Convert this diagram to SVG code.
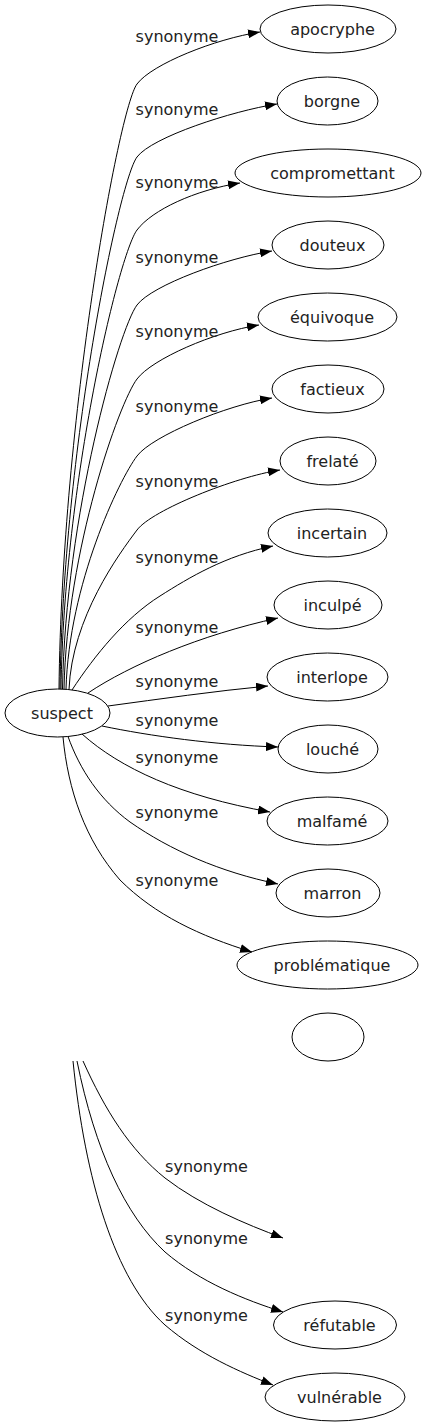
<svg xmlns="http://www.w3.org/2000/svg" width="426" height="1427" viewBox="0 0 426 1427">
<defs>
<style>
.node ellipse{fill:none;stroke:#000;stroke-width:1}
.node text{font-family:"DejaVu Sans",sans-serif;font-size:16px;fill:#222;text-anchor:middle}
.lbl{font-family:"DejaVu Sans",sans-serif;font-size:16px;fill:#222;text-anchor:middle}
.edges path{fill:none;stroke:#000;stroke-width:1;marker-end:url(#arr)}
</style>
<marker id="arr" viewBox="0 0 12 9" refX="12" refY="4.5" markerWidth="12" markerHeight="9" markerUnits="userSpaceOnUse" orient="auto"><path d="M0,0 L12,4.5 L0,9 z" fill="#000"/></marker>
</defs>
<rect width="426" height="1427" fill="#fff"/>
<g id="edges" class="edges">
<path d="M59,689 C62,417 119,108 137,84 C152,64 215,39 260,32"/>
<path d="M60,689 C63,450 119,181 137,157 C152,137 232,111 277,104"/>
<path d="M61,689 C64,482 119,254 137,230 C152,210 195,190 240,183"/>
<path d="M62.5,689 C65.5,516 119,329 137,305 C152,285 227,258 272,251"/>
<path d="M64,689 C67,549.5 119,403 137,379 C152,359 214,332 259,325"/>
<path d="M66,689 C69,584 119,480 137,456 C152,436 227,405 272,398"/>
<path d="M69,689.5 C72,617.5 119,554 137,530 C152,510 235,477 280,470"/>
<path d="M72,690 C95,655 125,618 160,596 C190,577 225,556 273,546"/>
<path d="M88,693 C130,665 200,635 278,618"/>
<path d="M108,706 C160,699 215,691 268,686"/>
<path d="M102,726 C150,736 215,745 278,747"/>
<path d="M82,734 C120,768 180,796 270,812"/>
<path d="M68,736.5 C80,770 100,800 130,822 C170,850 220,872 278,884"/>
<path d="M63,737 C68,790 85,840 120,880 C155,915 200,936 252,952"/>
<path d="M83,1061 C105,1110 130,1150 165,1178 C200,1205 245,1224 283,1238"/>
<path d="M77,1061 C95,1150 125,1215 165,1252 C200,1282 245,1300 283,1312"/>
<path d="M73,1061 C85,1180 115,1280 165,1325 C200,1355 240,1372 273,1385"/>
</g>
<g id="edge-labels">
<text class="lbl" x="177" y="42">synonyme</text>
<text class="lbl" x="177" y="115">synonyme</text>
<text class="lbl" x="177" y="188">synonyme</text>
<text class="lbl" x="177" y="263">synonyme</text>
<text class="lbl" x="177" y="337">synonyme</text>
<text class="lbl" x="177" y="412">synonyme</text>
<text class="lbl" x="177" y="487">synonyme</text>
<text class="lbl" x="177" y="563">synonyme</text>
<text class="lbl" x="177" y="633">synonyme</text>
<text class="lbl" x="177" y="687">synonyme</text>
<text class="lbl" x="177" y="726">synonyme</text>
<text class="lbl" x="177" y="763">synonyme</text>
<text class="lbl" x="177" y="818">synonyme</text>
<text class="lbl" x="177" y="886">synonyme</text>
<text class="lbl" x="206.5" y="1172">synonyme</text>
<text class="lbl" x="206.5" y="1244">synonyme</text>
<text class="lbl" x="206.5" y="1321">synonyme</text>
</g>
<g id="suspect" class="node"><ellipse cx="57.5" cy="713" rx="52.5" ry="24"/><text x="62" y="718.5">suspect</text></g>
<g id="apocryphe" class="node"><ellipse cx="328" cy="29" rx="68" ry="24"/><text x="332.5" y="34.5">apocryphe</text></g>
<g id="borgne" class="node"><ellipse cx="327.5" cy="101" rx="50.5" ry="24"/><text x="332" y="106.5">borgne</text></g>
<g id="compromettant" class="node"><ellipse cx="328" cy="173" rx="93" ry="24"/><text x="332.5" y="178.5">compromettant</text></g>
<g id="douteux" class="node"><ellipse cx="328" cy="245" rx="56" ry="24"/><text x="332.5" y="250.5">douteux</text></g>
<g id="equivoque" class="node"><ellipse cx="327.5" cy="317" rx="69.5" ry="24"/><text x="332" y="322.5">équivoque</text></g>
<g id="factieux" class="node"><ellipse cx="328" cy="389" rx="56" ry="24"/><text x="332.5" y="394.5">factieux</text></g>
<g id="frelate" class="node"><ellipse cx="328" cy="461" rx="48" ry="24"/><text x="332.5" y="466.5">frelaté</text></g>
<g id="incertain" class="node"><ellipse cx="327.5" cy="533" rx="59.5" ry="24"/><text x="332" y="538.5">incertain</text></g>
<g id="inculpe" class="node"><ellipse cx="328" cy="605" rx="54" ry="24"/><text x="332.5" y="610.5">inculpé</text></g>
<g id="interlope" class="node"><ellipse cx="327.5" cy="677" rx="60.5" ry="24"/><text x="332" y="682.5">interlope</text></g>
<g id="louche" class="node"><ellipse cx="328" cy="749" rx="50" ry="24"/><text x="332.5" y="754.5">louché</text></g>
<g id="malfame" class="node"><ellipse cx="327.5" cy="821" rx="60.5" ry="24"/><text x="332" y="826.5">malfamé</text></g>
<g id="marron" class="node"><ellipse cx="328" cy="893" rx="52" ry="24"/><text x="332.5" y="898.5">marron</text></g>
<g id="problematique" class="node"><ellipse cx="327.5" cy="965" rx="90.5" ry="24"/><text x="332" y="970.5">problématique</text></g>
<g id="empty" class="node"><ellipse cx="328" cy="1037" rx="36" ry="24"/></g>
<g id="refutable" class="node"><ellipse cx="335" cy="1325" rx="61.5" ry="24"/><text x="339.5" y="1330.5">réfutable</text></g>
<g id="vulnerable" class="node"><ellipse cx="335" cy="1397" rx="70" ry="24"/><text x="339.5" y="1402.5">vulnérable</text></g>
</svg>
